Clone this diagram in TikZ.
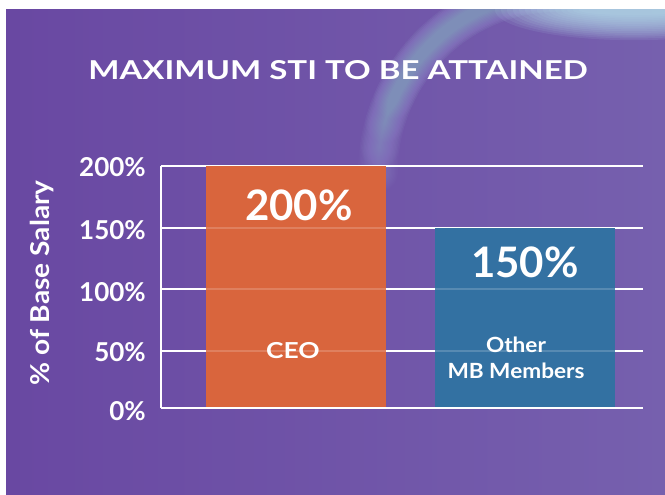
\documentclass[tikz,border=0pt]{standalone}
\usepackage{fontspec}
\setmainfont{Lato}
\definecolor{bgL}{HTML}{6948A2}
\definecolor{bgR}{HTML}{7660AE}
\definecolor{arcC}{HTML}{A8B8E2}
\definecolor{cyanC}{HTML}{BCECF2}
\definecolor{ceoC}{HTML}{D9653D}
\definecolor{mbC}{HTML}{3371A2}
\tikzset{
  lbl/.style={text=white,font=\bfseries,inner sep=0pt},
  ticklbl/.style={lbl,font=\bfseries\fontsize{19.5}{22}\selectfont,anchor=east},
  grid/.style={white,line width=1.5pt},
  bartint/.style={white,opacity=0.18,line width=1.5pt},
}
\begin{document}
\begin{tikzpicture}[x=0.75pt,y=-0.75pt]
\useasboundingbox (0,0) rectangle (665,494);
\fill[white] (0,0) rectangle (665,494);
\shade[left color=bgL,right color=bgR] (6,9) rectangle (665,494);
% blurred glass arc
\begin{scope}
\clip (6,9) rectangle (665,494);
\foreach \s/\e in {180/272,188/270,196/268,204/266}{
  \foreach \w in {2,4,...,30}{
    \draw[arcC,line width=\w pt,opacity=0.024,line cap=round] (558,172) ++(\s:180) arc[start angle=\s,end angle=\e,radius=180];
  }
}
\foreach \k in {0,1,...,14}{
  \fill[cyanC,opacity=0.09] (634,10) ellipse ({55+6*\k} and {5+1.8*\k});
}
\end{scope}
% grid
\foreach \y in {166,228,289,351,408}{
  \draw[grid] (161,\y) -- (643,\y);
}
\draw[grid] (161,166) -- (161,408);
% bars
\fill[ceoC] (206,166) rectangle (386,408);
\fill[mbC] (435,228) rectangle (615,408);
\foreach \y in {228,289,351}{
  \draw[bartint] (206,\y) -- (386,\y);
}
\foreach \y in {289,351}{
  \draw[bartint] (435,\y) -- (615,\y);
}
\draw[grid] (206,408) -- (386,408);
\draw[grid] (435,408) -- (615,408);
% title
\node[lbl,font=\bfseries\fontsize{19.5}{22}\selectfont\addfontfeatures{FakeStretch=1.27}] (title) at (338,70) {MAXIMUM STI TO BE ATTAINED};
% ticks
\node[ticklbl] (t200) at (146,167.5) {200\%};
\node[ticklbl] (t150) at (146,230) {150\%};
\node[ticklbl] (t100) at (146,292) {100\%};
\node[ticklbl] (t50) at (146,352) {50\%};
\node[ticklbl] (t0) at (146,411) {0\%};
% axis label
\node[lbl,font=\bfseries\fontsize{19.5}{22}\selectfont\addfontfeatures{FakeStretch=1.08},rotate=90] (ylab) at (42,283) {\% of Base Salary};
% bar labels
\node[lbl,font=\bfseries\fontsize{31.5}{36}\selectfont] (v200) at (299,205) {200\%};
\node[lbl,font=\bfseries\fontsize{16.5}{20}\selectfont\addfontfeatures{FakeStretch=1.2}] (ceo) at (293,351) {CEO};
\node[lbl,font=\bfseries\fontsize{31.5}{36}\selectfont] (v150) at (525,262) {150\%};
\node[lbl,font=\bfseries\fontsize{15.7}{19.5}\selectfont\addfontfeatures{FakeStretch=1.08},align=center] (mb) at (516,358) {Other\\MB Members};
\end{tikzpicture}
\end{document}
